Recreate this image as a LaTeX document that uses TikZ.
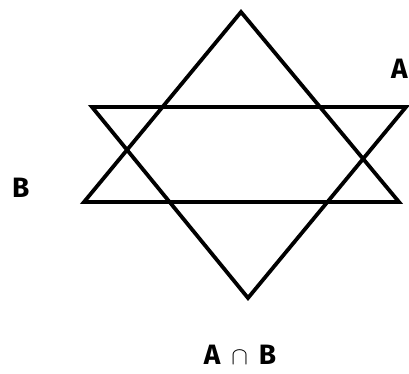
\documentclass[tikz,border=0pt]{standalone}
\usepackage{fontspec}
\setmainfont{Fira Sans}
\begin{document}
\begin{tikzpicture}[x=1pt,y=1pt,
  edge/.style={draw=black,line width=3.8pt,line join=miter},
  lbl/.style={font=\fontsize{28}{32}\selectfont\bfseries,inner sep=0pt}]
\useasboundingbox (0,0) rectangle (409,374);
% upward triangle
\coordinate (T)  at (241,362);
\coordinate (BL) at (84,172);
\coordinate (BR) at (399,172);
% downward triangle
\coordinate (TL) at (92,267);
\coordinate (TR) at (406,267);
\coordinate (Bo) at (248,76);
\draw[edge] (T) -- (BL) -- (BR) -- cycle;
\draw[edge] (TL) -- (TR) -- (Bo) -- cycle;
\node[lbl,anchor=base west] (labA) at (391,295) {A};
\node[lbl,anchor=base west] (labB) at (12,176) {B};
\node[lbl,anchor=base] (labAB) at (240,9) {A\hspace{11pt}{\fontsize{42}{42}\selectfont$\cap$}\hspace{11pt}B};
\end{tikzpicture}
\end{document}
